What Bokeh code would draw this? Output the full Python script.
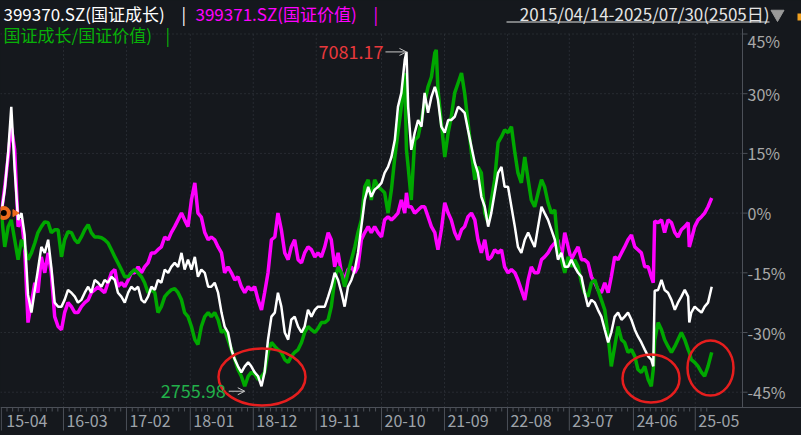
import math
from bokeh.plotting import figure
from bokeh.models import Range1d, Label, Arrow, OpenHead
from bokeh.embed import file_html
from bokeh.resources import INLINE

# ---------------- data (trading-day index since 2015-04-14, % change) ----------------
days = [
    0, 12, 24, 35, 47, 59, 71, 82, 94, 106, 118, 129, 141, 153, 165, 176, 188, 200, 212, 223,
    235, 247, 259, 270, 282, 294, 306, 317, 329, 341, 353, 364, 376, 388, 400, 411, 423, 435, 447, 458,
    470, 482, 494, 505, 517, 529, 541, 552, 564, 576, 588, 599, 611, 623, 635, 646, 658, 670, 682, 693,
    705, 717, 729, 740, 752, 764, 776, 787, 799, 811, 823, 834, 846, 858, 870, 881, 893, 905, 917, 928,
    940, 952, 964, 975, 987, 999, 1011, 1022, 1034, 1046, 1058, 1069, 1081, 1093, 1105, 1116, 1128, 1140, 1152, 1163,
    1175, 1187, 1199, 1210, 1222, 1234, 1246, 1257, 1269, 1281, 1293, 1304, 1316, 1328, 1340, 1351, 1363, 1375, 1387, 1398,
    1410, 1422, 1428, 1434, 1445, 1457, 1469, 1481, 1492, 1504, 1516, 1528, 1533, 1539, 1551, 1563, 1575, 1586, 1598, 1610, 1622, 1633,
    1645, 1657, 1669, 1680, 1692, 1704, 1716, 1727, 1739, 1751, 1763, 1774, 1786, 1798, 1810, 1821, 1833, 1845, 1857, 1868,
    1880, 1892, 1904, 1915, 1927, 1939, 1951, 1962, 1974, 1986, 1998, 2009, 2021, 2033, 2045, 2056, 2068, 2080, 2092, 2103,
    2115, 2127, 2139, 2150, 2162, 2174, 2186, 2197, 2209, 2221, 2233, 2244, 2256, 2268, 2280, 2291, 2298, 2303, 2315, 2327, 2338,
    2350, 2362, 2374, 2385, 2397, 2409, 2421, 2425, 2432, 2444, 2456, 2468, 2479, 2491, 2504,
]

# 399370.SZ 国证成长 (white)
growth_pct = [
    0.0, 5.9, 15.2, 26.7, 10.9, -1.7, 0.0, -5.5, -20.5, -25.0, -19.3, -14.2, -8.5, -10.0, -6.7, -13.5, -22.5, -23.5, -23.5, -21.8,
    -19.3, -20.0, -21.0, -22.5, -21.8, -20.0, -18.5, -20.0, -16.8, -17.5, -18.5, -16.8, -17.5, -16.0, -16.8, -20.0, -21.0, -22.5, -20.0, -18.5,
    -19.3, -18.5, -21.8, -22.5, -21.0, -18.5, -19.3, -16.8, -17.5, -14.2, -15.0, -13.5, -12.5, -13.5, -10.0, -14.2, -11.7, -14.2, -11.0, -16.0,
    -14.2, -15.0, -18.5, -18.5, -17.5, -20.0, -25.0, -28.5, -30.0, -34.3, -36.8, -38.5, -40.0, -38.5, -37.5, -38.5, -40.0, -41.0, -43.5, -40.0,
    -31.8, -26.0, -25.0, -20.0, -23.5, -30.0, -31.8, -26.8, -26.0, -28.5, -30.0, -28.5, -24.3, -26.0, -24.3, -23.5, -23.5, -23.5, -21.0, -18.5,
    -15.0, -16.8, -20.0, -23.5, -18.5, -16.8, -14.2, -10.0, -3.4, 3.3, 6.6, 4.1, 5.9, 6.6, 7.6, 10.1, 11.6, 14.1, 18.4, 26.7,
    30.2, 38.5, 40.5, 26.7, 15.9, 20.2, 23.4, 21.7, 30.2, 25.2, 29.2, 31.7, 30.5, 28.5, 21.7, 20.2, 23.4, 23.4, 24.2, 26.7, 26.0, 25.2,
    20.9, 16.7, 12.6, 10.1, 4.1, 1.6, -3.4, 0.0, 5.1, 10.1, 11.6, 6.6, 6.6, 1.6, -3.4, -8.5, -10.0, -6.7, -4.9, -6.7,
    -8.5, -3.4, 1.6, 0.0, -1.7, -4.2, -6.7, -11.7, -10.0, -13.5, -13.5, -11.7, -13.5, -15.0, -16.0, -20.0, -23.5, -21.8, -22.5, -24.3,
    -26.0, -29.3, -32.5, -30.0, -26.0, -25.0, -26.8, -26.0, -25.0, -26.8, -29.3, -31.0, -32.5, -34.3, -36.0, -36.8, -38.5, -19.5, -19.3, -16.8, -19.3,
    -20.0, -21.8, -24.3, -22.5, -21.0, -19.3, -21.0, -27.5, -25.0, -23.5, -24.3, -25.0, -23.5, -22.5, -18.5,
]

# 399371.SZ 国证价值 (magenta)
value_pct = [
    0.0, 6.6, 14.2, 21.7, 15.9, -3.4, -1.7, -8.5, -27.5, -22.5, -17.5, -20.0, -11.0, -15.0, -10.0, -15.0, -26.0, -28.5, -29.3, -25.0,
    -22.5, -23.5, -25.0, -25.0, -23.5, -22.5, -21.8, -20.0, -19.3, -18.5, -19.3, -20.0, -17.5, -15.0, -14.2, -18.5, -17.5, -18.5, -16.8, -15.0,
    -15.0, -13.5, -15.0, -13.5, -12.5, -10.0, -10.0, -9.2, -8.5, -6.0, -6.7, -4.9, -3.4, -1.7, 0.0, -1.7, -3.4, 3.3, 7.6, 0.0,
    -1.0, -4.9, -6.7, -6.0, -6.7, -8.5, -10.0, -15.0, -13.5, -15.0, -16.8, -16.0, -18.5, -20.0, -18.5, -19.3, -18.5, -21.8, -24.3, -20.0,
    -15.0, -6.7, -6.0, 0.0, -4.2, -10.0, -11.7, -8.5, -6.7, -11.7, -12.5, -10.0, -8.5, -9.2, -11.0, -10.0, -11.0, -8.5, -4.9, -6.7,
    -13.5, -10.0, -15.0, -16.8, -14.2, -13.5, -15.0, -13.5, -6.7, -4.9, -3.4, -4.9, -3.4, -4.9, -6.0, -1.7, -0.9, -1.7, -0.9, 0.0,
    3.3, 0.0, 5.1, 1.6, 1.6, 0.0, 0.8, 1.6, 1.6, -0.9, -3.4, -4.9, -7.0, -9.2, -4.2, 2.6, 0.0, -1.7, -4.9, -6.7, -4.2, -3.4,
    -0.9, 0.0, -1.7, -6.7, -10.0, -6.7, -11.7, -11.0, -9.2, -10.0, -9.2, -13.5, -15.0, -14.2, -15.0, -16.8, -19.3, -21.8, -16.8, -13.5,
    -15.0, -15.0, -11.7, -11.0, -10.0, -8.5, -7.5, -6.7, -11.7, -4.9, -8.5, -11.7, -10.0, -8.5, -11.7, -11.7, -12.5, -16.0, -17.5, -19.3,
    -20.0, -17.5, -20.0, -16.0, -11.0, -11.7, -10.0, -8.5, -6.7, -5.5, -8.5, -9.2, -10.0, -13.5, -13.5, -16.0, -17.5, -2.0, -2.4, -1.7, -4.9,
    -1.7, -2.4, -4.9, -6.0, -4.2, -3.4, -2.4, -8.5, -6.7, -3.4, -1.7, -0.9, 0.0, 1.6, 3.8,
]

# 国证成长/国证价值 (green)
ratio_pct = [
    0.0, -8.5, -3.4, -1.7, -6.7, -11.7, -6.7, -8.5, -11.7, -10.0, -7.5, -4.9, -3.4, -2.2, -2.4, -4.9, -4.2, -4.2, -11.0, -6.7,
    -4.7, -4.9, -6.7, -7.5, -6.0, -4.2, -2.9, -4.9, -6.0, -6.0, -6.2, -6.7, -7.5, -9.2, -11.0, -12.5, -14.2, -16.0, -16.0, -15.0,
    -14.2, -15.0, -16.0, -17.5, -20.0, -19.3, -20.0, -25.0, -23.5, -21.0, -20.0, -19.3, -19.0, -20.0, -21.8, -25.0, -26.0, -28.5, -31.8, -33.0,
    -28.5, -26.0, -25.0, -26.0, -25.0, -26.8, -30.0, -29.3, -31.8, -34.3, -36.8, -39.3, -41.0, -43.5, -41.0, -40.0, -40.5, -41.8, -41.0, -40.0,
    -35.0, -32.5, -33.5, -34.3, -35.0, -36.8, -37.5, -36.0, -35.0, -34.3, -32.5, -30.0, -28.5, -29.3, -30.0, -29.0, -27.5, -27.5, -26.8, -23.5,
    -16.8, -13.5, -15.0, -18.5, -15.0, -11.7, -8.5, -4.9, -1.7, 6.6, 8.4, 3.3, 8.4, 6.6, 5.9, 5.1, 0.0, 5.9, 14.1, 20.2,
    26.7, 35.2, 15.9, 11.6, 3.3, 18.4, 19.2, 23.4, 27.7, 31.7, 34.2, 40.3, 41.0, 31.0, 22.7, 14.1, 20.2, 24.2, 30.2, 32.7, 35.2, 30.2,
    22.7, 15.2, 8.4, 11.6, 10.1, 0.0, -2.4, 3.3, 8.4, 17.7, 19.2, 20.9, 20.2, 21.7, 15.2, 10.1, 7.6, 14.1, 8.4, 3.3,
    1.6, 5.1, 8.4, 6.6, 2.6, 0.0, 0.8, -8.5, -11.7, -15.0, -11.0, -13.5, -11.7, -13.5, -17.5, -20.0, -21.0, -17.5, -16.8, -19.3,
    -21.8, -24.3, -31.0, -38.5, -33.5, -28.5, -31.8, -32.5, -35.0, -34.3, -36.0, -39.3, -40.0, -38.5, -41.8, -43.5, -39.3, -32.0, -27.5, -29.3, -31.8,
    -33.5, -35.0, -33.5, -31.8, -30.0, -31.8, -34.3, -35.0, -36.8, -37.5, -38.5, -40.0, -41.0, -38.5, -35.0,
]

assert len(days) == len(growth_pct) == len(value_pct) == len(ratio_pct), (
    len(days), len(growth_pct), len(value_pct), len(ratio_pct))

# axis ticks (trading-day index of each labelled month start)
sep_days = [0, 219, 441, 666, 888, 1110, 1340, 1562, 1784, 2002, 2228, 2446]
x_tick_labels = ["15-04", "16-03", "17-02", "18-01", "18-12", "19-11",
                 "20-10", "21-09", "22-08", "23-07", "24-06", "25-05"]
y_ticks = [-45, -30, -15, 0, 15, 30, 45]
y_tick_labels = ["-45%", "-30%", "-15%", "0%", "15%", "30%", "45%"]

title_growth = "399370.SZ(国证成长)"
title_value = "399371.SZ(国证价值)"
title_ratio = "国证成长/国证价值)"
period_text = "2015/04/14-2025/07/30(2505日)"
peak_text = "7081.17"
trough_text = "2755.98"

# ---------------- styling / layout ----------------
BG = "#15181d"
GRID = "#3a3e46"
AXIS = "#4c5058"
FONT = "Noto Sans CJK SC"
WHITE, MAGENTA, GREEN = "#ffffff", "#ff00ff", "#00a800"

W, H = 801, 435
PXD = 0.28369          # pixels per trading day
PPP = 3.98             # pixels per percentage point
Y_TOP_PX = 33.5        # pixel row of the 45% line

X0 = -3.0
X1 = X0 + W / PXD
Y1 = 45.0 + Y_TOP_PX / PPP
Y0 = Y1 - H / PPP


def rx(px):   # pixel x -> day
    return X0 + px / PXD


def ry(py):   # pixel y (from top) -> pct
    return Y1 - py / PPP


def rw(px):
    return px / PXD


def rh(py):
    return py / PPP


p = figure(width=W, height=H, x_range=Range1d(X0, X1), y_range=Range1d(Y0, Y1),
           x_axis_location=None, y_axis_location=None, output_backend="svg",
           toolbar_location=None, min_border=0,
           background_fill_color=BG, border_fill_color=BG, outline_line_color=None)
p.grid.visible = False

# ---------------- grid ----------------
x_axis_right = rx(742)
n = len(y_ticks)
p.segment(x0=[X0] * n, y0=y_ticks, x1=[x_axis_right] * n, y1=y_ticks,
          line_color=GRID, line_dash="1 3", line_width=1)
vg = sep_days[1:]
p.segment(x0=vg, y0=[ry(407)] * len(vg), x1=vg, y1=[max(y_ticks)] * len(vg),
          line_color=GRID, line_dash="1 3", line_width=1)

# ---------------- right value scale ----------------
p.segment(x0=[x_axis_right], y0=[ry(407)], x1=[x_axis_right], y1=[ry(28)],
          line_color=AXIS, line_width=1)
p.segment(x0=[x_axis_right] * n, y0=y_ticks, x1=[rx(747)] * n, y1=y_ticks,
          line_color=AXIS, line_width=1)
for t, lab in zip(y_ticks, y_tick_labels):
    ly = t if t < max(y_ticks) else ry(40)
    p.add_layout(Label(x=rx(747), y=ly, text=lab, text_align="left", text_baseline="middle",
                       text_color="#a8a8a8", text_font=FONT, text_font_size="16px"))

# ---------------- time scale (bottom) ----------------
month_ticks = []
for i, s in enumerate(sep_days):
    nxt = sep_days[i + 1] if i + 1 < len(sep_days) else s + 223
    step = (nxt - s) / 11.0
    for j in range(1, 11):
        t = s + j * step
        if t <= days[-1]:
            month_ticks.append(t)
y_axis_line = ry(407)
p.segment(x0=[X0], y0=[y_axis_line], x1=[X1], y1=[y_axis_line], line_color=AXIS, line_width=1)
p.segment(x0=month_ticks, y0=[y_axis_line] * len(month_ticks), x1=month_ticks,
          y1=[ry(411)] * len(month_ticks), line_color=AXIS, line_width=1)
p.segment(x0=sep_days, y0=[y_axis_line] * len(sep_days), x1=sep_days,
          y1=[ry(430)] * len(sep_days), line_color=AXIS, line_width=1)
for s, lab in zip(sep_days, x_tick_labels):
    p.add_layout(Label(x=s + rw(3 if s > 0 else 5), y=ry(420.5), text=lab, text_align="left",
                       text_baseline="middle", text_color="#9ea3aa", text_font=FONT,
                       text_font_size="16px"))

# ---------------- series ----------------
p.line(days, value_pct, line_color=MAGENTA, line_width=3.5)
p.line(days, ratio_pct, line_color=GREEN, line_width=3.5)
p.line(days, growth_pct, line_color=WHITE, line_width=2.5)

# base marker
p.scatter([rx(3.3)], [0.0], marker="circle", size=10, fill_color="#000000",
          line_color="#ee6a1c", line_width=4)
p.scatter([rx(14.5)], [0.0], marker="triangle", angle=-math.pi / 2, size=7,
          fill_color="#ee6a1c", line_color="#ee6a1c")

# red hand-drawn ellipses
ell_cx = [rx(261.5), rx(650.5), rx(710.0)]
ell_cy = [ry(376.5), ry(378.0), ry(367.5)]
ell_w = [rw(87), rw(57), rw(46)]
ell_h = [rh(57), rh(48), rh(55)]
p.ellipse(x=ell_cx, y=ell_cy, width=ell_w, height=ell_h, fill_color=None,
          line_color="#e61e1e", line_width=2.5)

# peak / trough annotations
i_pk = max(range(len(growth_pct)), key=lambda i: growth_pct[i])
pk_x, pk_y = days[i_pk], growth_pct[i_pk]
p.add_layout(Arrow(end=OpenHead(size=7, line_color="#c8c8c8", line_width=1),
                   x_start=pk_x - rw(21), y_start=pk_y, x_end=pk_x, y_end=pk_y,
                   line_color="#c8c8c8", line_width=1))
p.add_layout(Label(x=pk_x - rw(23), y=pk_y, text=peak_text, text_align="right",
                   text_baseline="middle", text_color="#e8383c", text_font=FONT,
                   text_font_size="18px"))

i_tr = min(range(len(ratio_pct)), key=lambda i: ratio_pct[i])
tr_x, tr_y = days[i_tr], ratio_pct[i_tr] - rh(5)
p.add_layout(Arrow(end=OpenHead(size=7, line_color="#c8c8c8", line_width=1),
                   x_start=tr_x - rw(16), y_start=tr_y, x_end=tr_x, y_end=tr_y,
                   line_color="#c8c8c8", line_width=1))
p.add_layout(Label(x=tr_x - rw(19), y=tr_y, text=trough_text, text_align="right",
                   text_baseline="middle", text_color="#22b04a", text_font=FONT,
                   text_font_size="18px"))


# ---------------- header ----------------
def head(x, y, text, color, align="left", size="17px"):
    p.add_layout(Label(x=rx(x), y=ry(y), text=text, text_align=align, text_baseline="top",
                       text_color=color, text_font=FONT, text_font_size=size))


head(3, 0.5, title_growth, WHITE)
head(181, 0.5, "|", WHITE)
head(195, 0.5, title_value, MAGENTA)
head(373, 0.5, "|", MAGENTA)
head(3, 21, title_ratio, "#08b008")
head(165, 21, "|", "#08b008")
head(769, 0.5, period_text, "#e4e4e4", align="right")
p.segment(x0=[rx(506)], y0=[ry(21.5)], x1=[rx(769)], y1=[ry(21.5)],
          line_color="#e4e4e4", line_width=1)
p.scatter(x=[rx(777)], y=[ry(13.5)], marker="inverted_triangle", size=13,
          fill_color="#9a9a9a", line_color="#9a9a9a")
p.quad(left=[rx(797)], right=[rx(803)], top=[ry(13)], bottom=[ry(20)],
       fill_color="#f0a020", line_color=None)

html = file_html(p, INLINE)
html = html.replace("</head>", "<style>html,body{background:#15181d;}</style></head>", 1)
open("out.html", "w").write(html)
